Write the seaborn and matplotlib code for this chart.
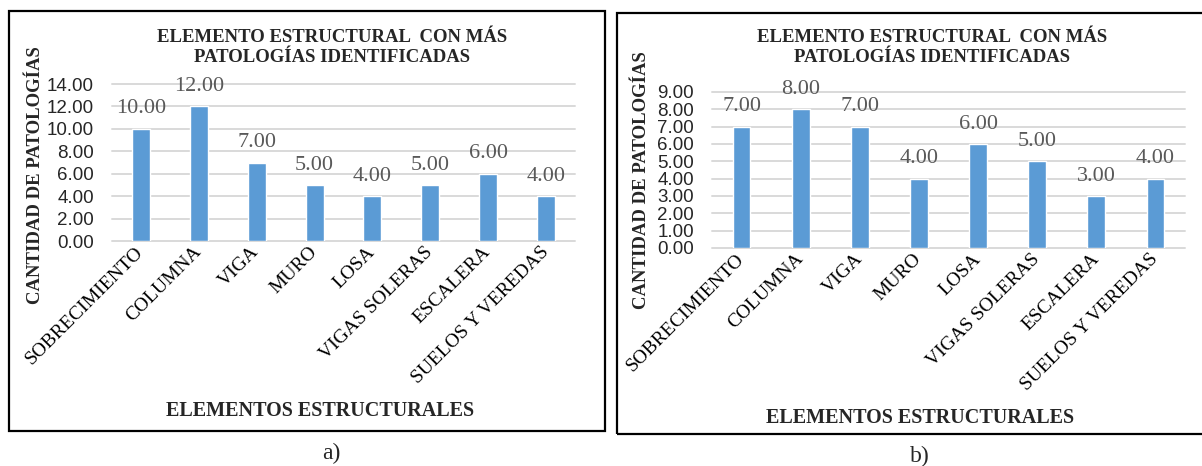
import matplotlib
matplotlib.use("Agg")
import matplotlib.pyplot as plt
import seaborn as sns
import pandas as pd
from matplotlib.patches import Rectangle

# Datos de ambos gráficos
categorias = ["SOBRECIMIENTO", "COLUMNA", "VIGA", "MURO", "LOSA",
              "VIGAS SOLERAS", "ESCALERA", "SUELOS Y VEREDAS"]
valores_a = [10, 12, 7, 5, 4, 5, 6, 4]
valores_b = [7, 8, 7, 4, 6, 5, 3, 4]
ticks_a = [0, 2, 4, 6, 8, 10, 12, 14]
ticks_b = [0, 1, 2, 3, 4, 5, 6, 7, 8, 9]

titulo_1 = "ELEMENTO ESTRUCTURAL  CON MÁS"
titulo_2 = "PATOLOGÍAS IDENTIFICADAS"
etiqueta_y = "CANTIDAD DE PATOLOGÍAS"
etiqueta_x = "ELEMENTOS ESTRUCTURALES"
subtitulos = ["a)", "b)"]

AZUL = "#5b9bd5"
GRIS_GRILLA = "#d9d9d9"
GRIS_ETIQUETA = "#595959"

W, H = 1202, 466

sns.set_theme(style="white")
plt.rcParams["font.family"] = ["Liberation Serif", "DejaVu Serif"]

fig = plt.figure(figsize=(W / 100, H / 100), dpi=100)


def fx(px):
    return px / W


def fy(py):
    return 1 - py / H


def panel(valores, ticks, caja, ejes, centro_x, y_ylabel, x_ylabel, y_xlabel,
          subtitulo, pos_sub, ancho):
    # marco del gráfico
    bx0, by0, bx1, by1 = caja
    fig.add_artist(Rectangle((fx(bx0), fy(by1)), (bx1 - bx0) / W, (by1 - by0) / H,
                             transform=fig.transFigure, fill=False,
                             edgecolor="black", linewidth=1.6, clip_on=False))

    x0, y0, x1, y1 = ejes
    ax = fig.add_axes([fx(x0), fy(y1), (x1 - x0) / W, (y1 - y0) / H])
    df = pd.DataFrame({"elemento": categorias, "cantidad": valores})
    sns.barplot(data=df, x="elemento", y="cantidad", color=AZUL, saturation=1,
                width=ancho, ax=ax)

    ax.set_xlim(-0.5, len(categorias) - 0.5)
    ax.set_ylim(0, ticks[-1])
    ax.set_yticks(ticks)
    ax.set_yticklabels([f"{t:.2f}" for t in ticks], fontfamily="Liberation Sans",
                       fontsize=13.5, color="#262626")
    ax.set_xlabel("")
    ax.set_ylabel("")
    ax.yaxis.grid(True, color=GRIS_GRILLA, linewidth=1.4)
    ax.set_axisbelow(True)
    for linea in ax.get_ygridlines():
        linea.set_clip_on(False)
    for s in ax.spines.values():
        s.set_visible(False)
    ax.tick_params(axis="y", length=0, pad=13)
    ax.tick_params(axis="x", length=0, pad=6)
    plt.setp(ax.get_xticklabels(), rotation=45, ha="right", va="center",
             rotation_mode="anchor", fontsize=14, color="black")

    ax.bar_label(ax.containers[0], fmt="%.2f", padding=7.5, fontsize=16,
                 color=GRIS_ETIQUETA)

    # título en dos renglones
    fig.text(fx(centro_x), fy(38), titulo_1, ha="center", va="center",
             fontsize=13.5, fontweight="bold")
    fig.text(fx(centro_x), fy(58), titulo_2, ha="center", va="center",
             fontsize=13.5, fontweight="bold")
    fig.text(fx(x_ylabel), fy(y_ylabel), etiqueta_y, rotation=90, ha="center",
             va="center", fontsize=13.5, fontweight="bold")
    fig.text(fx(centro_x - 12), fy(y_xlabel), etiqueta_x, ha="center", va="center",
             fontsize=14.5, fontweight="bold")
    fig.text(fx(pos_sub[0]), fy(pos_sub[1]), subtitulo, ha="center", va="center",
             fontsize=17)


panel(valores_a, ticks_a, (9, 11, 605, 431), (112, 84, 575, 241), 332, 175, 36,
      411, subtitulos[0], (331, 453), 0.31)
panel(valores_b, ticks_b, (617, 13, 1212, 434), (712, 92, 1185, 248), 932, 180, 641,
      418, subtitulos[1], (920, 456), 0.30)

fig.savefig("out.png", dpi=100)
